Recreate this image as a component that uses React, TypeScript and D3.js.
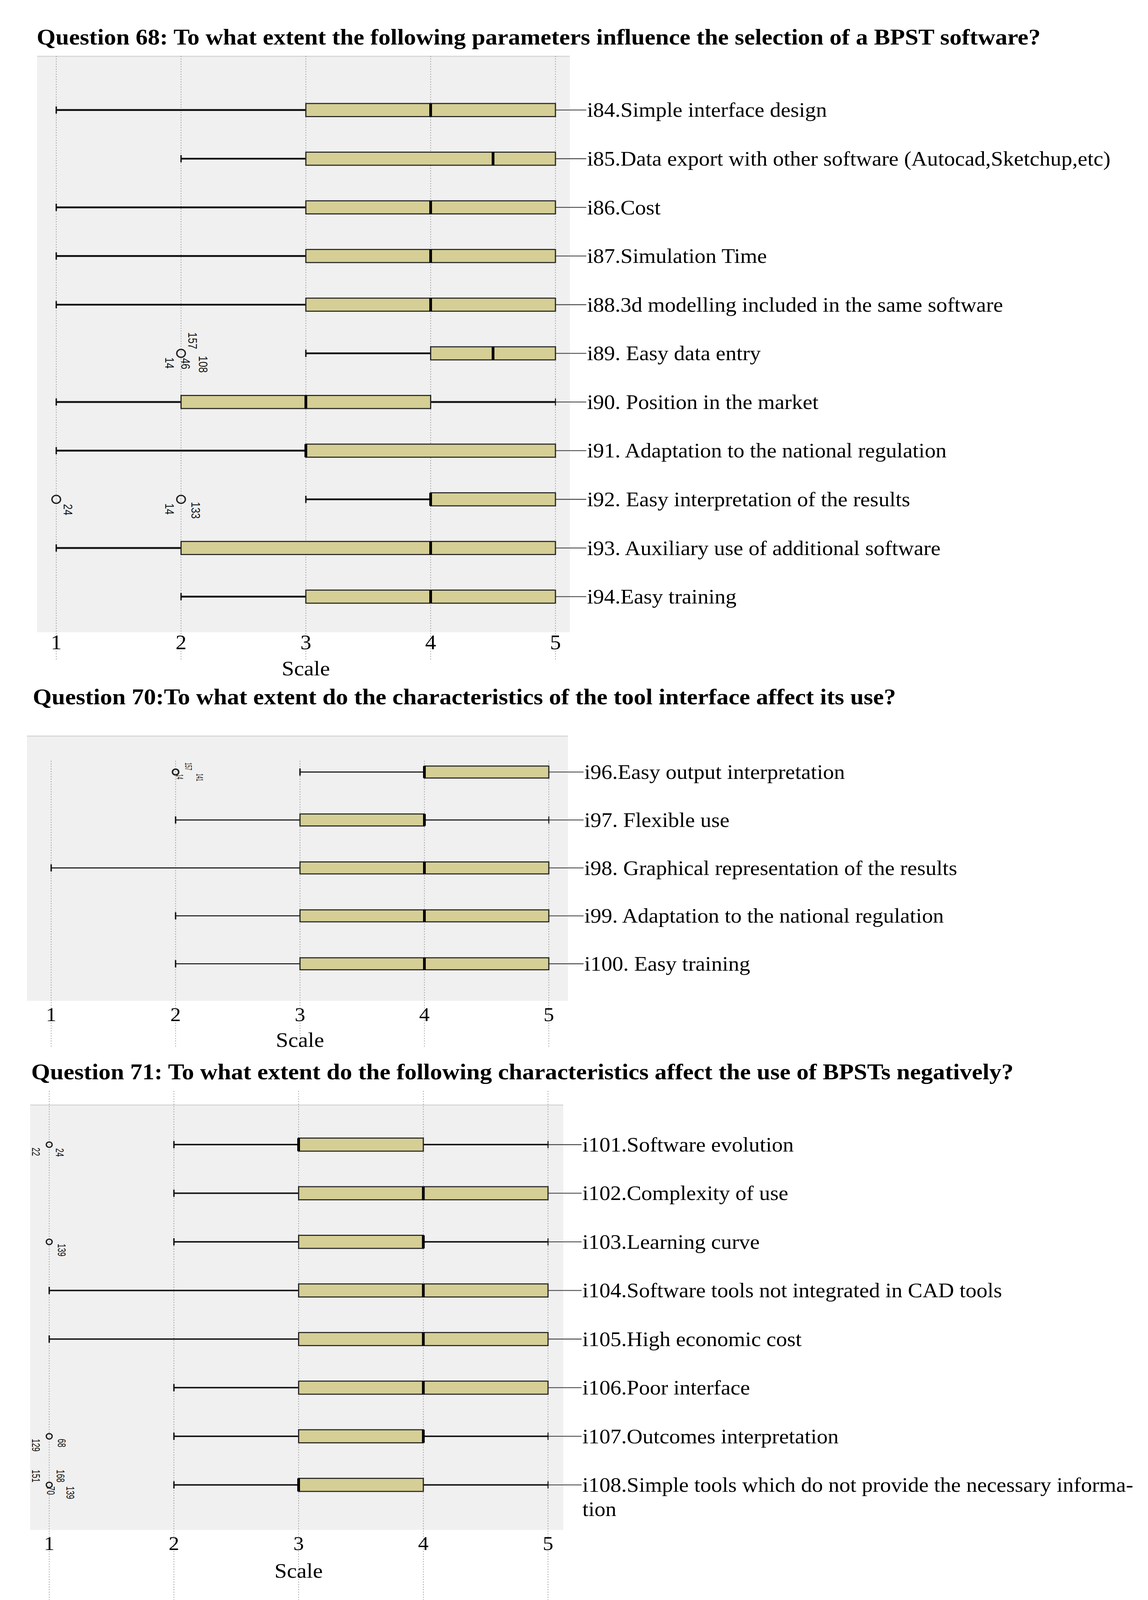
import * as d3 from "d3";

// ---- data (Likert scale 1..5) ----

const scaleTicks = [1, 2, 3, 4, 5];

const q68Title = "Question 68: To what extent the following parameters influence the selection of a BPST software?";
const q68Items = [
  "i84.Simple interface design",
  "i85.Data export with other software (Autocad,Sketchup,etc)",
  "i86.Cost",
  "i87.Simulation Time",
  "i88.3d modelling included in the same software",
  "i89. Easy data entry",
  "i90. Position in the market",
  "i91. Adaptation to the national regulation",
  "i92. Easy interpretation of the results",
  "i93. Auxiliary use of additional software",
  "i94.Easy training",
];
const q68Low = [1, 2, 1, 1, 1, 3, 1, 1, 3, 1, 2];
const q68Q1 = [3, 3, 3, 3, 3, 4, 2, 3, 4, 2, 3];
const q68Median = [4, 4.5, 4, 4, 4, 4.5, 3, 3, 4, 4, 4];
const q68Q3 = [5, 5, 5, 5, 5, 5, 4, 5, 5, 5, 5];
const q68High = [5, 5, 5, 5, 5, 5, 5, 5, 5, 5, 5];
const q68Outliers = [
  { item: 5, value: 2, cases: ["157", "46", "14", "108"] },
  { item: 8, value: 1, cases: ["24"] },
  { item: 8, value: 2, cases: ["14", "133"] },
];

const q70Title = "Question 70:To what extent do the characteristics of the tool interface affect its use?";
const q70Items = [
  "i96.Easy output interpretation",
  "i97. Flexible use",
  "i98. Graphical representation of the results",
  "i99. Adaptation to the national regulation",
  "i100. Easy training",
];
const q70Low = [3, 2, 1, 2, 2];
const q70Q1 = [4, 3, 3, 3, 3];
const q70Median = [4, 4, 4, 4, 4];
const q70Q3 = [5, 4, 5, 5, 5];
const q70High = [5, 5, 5, 5, 5];
const q70Outliers = [{ item: 0, value: 2, cases: ["157", "14", "141"] }];

const q71Title = "Question 71: To what extent do the following characteristics affect the use of BPSTs negatively?";
const q71Items = [
  "i101.Software evolution",
  "i102.Complexity of use",
  "i103.Learning curve",
  "i104.Software tools not integrated in CAD tools",
  "i105.High economic cost",
  "i106.Poor interface",
  "i107.Outcomes interpretation",
  "i108.Simple tools which do not provide the necessary informa-|tion",
];
const q71Low = [2, 2, 2, 1, 1, 2, 2, 2];
const q71Q1 = [3, 3, 3, 3, 3, 3, 3, 3];
const q71Median = [3, 4, 4, 4, 4, 4, 4, 3];
const q71Q3 = [4, 5, 4, 5, 5, 5, 4, 4];
const q71High = [5, 5, 5, 5, 5, 5, 5, 5];
const q71Outliers = [
  { item: 0, value: 1, cases: ["24", "22"] },
  { item: 2, value: 1, cases: ["139"] },
  { item: 6, value: 1, cases: ["68", "129"] },
  { item: 7, value: 1, cases: ["151", "168", "70", "139"] },
];

// ---- layout ----
const W = 2939;
const H = 4406;
const SERIF = "'Liberation Serif', 'Times New Roman', serif";
const SANS = "'Liberation Sans', Arial, sans-serif";
const BOX_FILL = "#d5cf96";
const LABEL_FONT = 56;
const TITLE_FONT = 62;

// where the case-number labels sit around each outlier circle (dx, dy of the rotated text start)
const caseOffsets1: Record<string, [number, number]> = {
  "5-2-157": [18, -58], "5-2-46": [0, 13], "5-2-14": [-41, 11], "5-2-108": [45, 7],
  "8-1-24": [19, 13], "8-2-14": [-41, 11], "8-2-133": [26, 7],
};
const caseOffsets2: Record<string, [number, number]> = {
  "0-2-157": [24, -26], "0-2-14": [2, 6], "0-2-141": [53, 4],
};
const caseOffsets3: Record<string, [number, number]> = {
  "0-1-24": [17, 10], "0-1-22": [-44, 8],
  "2-1-139": [22, 5],
  "6-1-68": [22, 7], "6-1-129": [-44, 7],
  "7-1-151": [-44, -42], "7-1-168": [19, -42], "7-1-70": [-6, 4], "7-1-139": [44, 4],
};

type Outlier = { item: number; value: number; cases: string[] };

type PanelProps = {
  title: string;
  items: string[];
  low: number[];
  q1: number[];
  median: number[];
  q3: number[];
  high: number[];
  outliers: Outlier[];
  offsets: Record<string, [number, number]>;
  titleX: number;
  titleY: number;
  bg: { x: number; y: number; w: number; h: number };
  xRange: [number, number];
  rowRange: [number, number];
  gridTop: number;
  gridBottom: number;
  tickY: number;
  tickFont: number;
  axisTitleY: number;
  labelX: number;
  boxH: number;
  whiskerW: number;
  outR: number;
  outStroke: number;
  caseFont: number;
  caseDigit: number;
};

function BoxPanel(p: PanelProps) {
  const x = d3.scaleLinear().domain([1, 5]).range(p.xRange);
  const y = d3.scalePoint<number>().domain(p.items.map((_, i) => i)).range(p.rowRange);
  const cap = 10;
  return (
    <g>
      <text x={p.titleX} y={p.titleY} fontFamily={SERIF} fontWeight="bold" fontSize={TITLE_FONT} fill="#000">
        {p.title}
      </text>
      <rect x={p.bg.x} y={p.bg.y} width={p.bg.w} height={p.bg.h} fill="#f0f0f0" />
      <line x1={p.bg.x} x2={p.bg.x + p.bg.w} y1={p.bg.y + 1} y2={p.bg.y + 1} stroke="#d6d6d6" strokeWidth={3} />
      {scaleTicks.map((t) => (
        <line key={"g" + t} x1={x(t)} x2={x(t)} y1={p.gridTop} y2={p.gridBottom}
          stroke="#8a8a8a" strokeWidth={1.5} strokeDasharray="3,4" />
      ))}
      {scaleTicks.map((t) => (
        <text key={"t" + t} x={x(t)} y={p.tickY} textAnchor="middle" fontFamily={SERIF} fontSize={p.tickFont}>
          {t}
        </text>
      ))}
      <text x={x(3)} y={p.axisTitleY} textAnchor="middle" fontFamily={SERIF} fontSize={57}>Scale</text>
      {p.items.map((label, i) => {
        const cy = y(i)!;
        const lines = label.split("|");
        const end = Math.max(p.q3[i], p.high[i]);
        return (
          <g key={label}>
            {/* leader line to the label */}
            <line x1={x(end)} x2={p.labelX - 2} y1={cy} y2={cy} stroke="#4a4a4a" strokeWidth={2.5} />
            {/* whiskers */}
            {p.low[i] < p.q1[i] && (
              <g>
                <line x1={x(p.low[i])} x2={x(p.q1[i])} y1={cy} y2={cy} stroke="#111" strokeWidth={p.whiskerW} />
                <line x1={x(p.low[i])} x2={x(p.low[i])} y1={cy - cap} y2={cy + cap} stroke="#111" strokeWidth={3.5} />
              </g>
            )}
            {p.high[i] > p.q3[i] && (
              <g>
                <line x1={x(p.q3[i])} x2={x(p.high[i])} y1={cy} y2={cy} stroke="#111" strokeWidth={p.whiskerW} />
                <line x1={x(p.high[i])} x2={x(p.high[i])} y1={cy - cap} y2={cy + cap} stroke="#111" strokeWidth={2.5} />
              </g>
            )}
            <rect x={x(p.q1[i])} y={cy - p.boxH / 2} width={x(p.q3[i]) - x(p.q1[i])} height={p.boxH}
              fill={BOX_FILL} stroke="#262626" strokeWidth={3} />
            <line x1={x(p.median[i])} x2={x(p.median[i])} y1={cy - p.boxH / 2} y2={cy + p.boxH / 2}
              stroke="#000" strokeWidth={7} />
            <text x={p.labelX} y={cy + LABEL_FONT * 0.34} fontFamily={SERIF} fontSize={LABEL_FONT}>
              {lines.map((ln, k) => (
                <tspan key={k} x={p.labelX} dy={k === 0 ? 0 : LABEL_FONT * 1.2}>{ln}</tspan>
              ))}
            </text>
          </g>
        );
      })}
      {p.outliers.map((o) => {
        const cx = x(o.value);
        const cy = y(o.item)!;
        return (
          <g key={`${o.item}-${o.value}`}>
            <circle cx={cx} cy={cy} r={p.outR} fill="none" stroke="#222" strokeWidth={p.outStroke} />
            {o.cases.map((c) => {
              const off = p.offsets[`${o.item}-${o.value}-${c}`] || [10, 10];
              return (
                <text key={c} transform={`translate(${cx + off[0]},${cy + off[1]}) rotate(90)`}
                  fontFamily={SANS} fontSize={p.caseFont} textLength={p.caseDigit * c.length}
                  lengthAdjust="spacingAndGlyphs" fill="#111">
                  {c}
                </text>
              );
            })}
          </g>
        );
      })}
    </g>
  );
}

export default function App() {
  // the drawing is laid out on the reference's 2939x4406 grid and stretched to fill the window
  return (
    <svg viewBox={`0 0 ${W} ${H}`} preserveAspectRatio="none"
      style={{ position: "fixed", left: 0, top: 0, width: "100vw", height: "100vh", display: "block", background: "#fff" }}>
      <rect width={W} height={H} fill="#fff" />
      <BoxPanel
        title={q68Title} items={q68Items} low={q68Low} q1={q68Q1} median={q68Median} q3={q68Q3} high={q68High}
        outliers={q68Outliers} offsets={caseOffsets1}
        titleX={94} titleY={123}
        bg={{ x: 95, y: 154, w: 1364, h: 1587 }}
        xRange={[144, 1422]} rowRange={[303, 1643]}
        gridTop={154} gridBottom={1817} tickY={1788} tickFont={56} axisTitleY={1860}
        labelX={1503} boxH={36} whiskerW={5}
        outR={11} outStroke={3.5} caseFont={32} caseDigit={15.5}
      />
      <BoxPanel
        title={q70Title} items={q70Items} low={q70Low} q1={q70Q1} median={q70Median} q3={q70Q3} high={q70High}
        outliers={q70Outliers} offsets={caseOffsets2}
        titleX={84} titleY={1940}
        bg={{ x: 69, y: 2026, w: 1385, h: 730 }}
        xRange={[131, 1405]} rowRange={[2126, 2654]}
        gridTop={2095} gridBottom={2883} tickY={2812} tickFont={54} axisTitleY={2883}
        labelX={1496} boxH={33} whiskerW={2.8}
        outR={8} outStroke={4} caseFont={24} caseDigit={7}
      />
      <BoxPanel
        title={q71Title} items={q71Items} low={q71Low} q1={q71Q1} median={q71Median} q3={q71Q3} high={q71High}
        outliers={q71Outliers} offsets={caseOffsets3}
        titleX={80} titleY={2972}
        bg={{ x: 77, y: 3042, w: 1365, h: 1171 }}
        xRange={[126, 1403]} rowRange={[3152, 4089]}
        gridTop={3004} gridBottom={4406} tickY={4268} tickFont={54} axisTitleY={4345}
        labelX={1491} boxH={36} whiskerW={4}
        outR={7.5} outStroke={3.5} caseFont={30} caseDigit={11.7}
      />
    </svg>
  );
}
